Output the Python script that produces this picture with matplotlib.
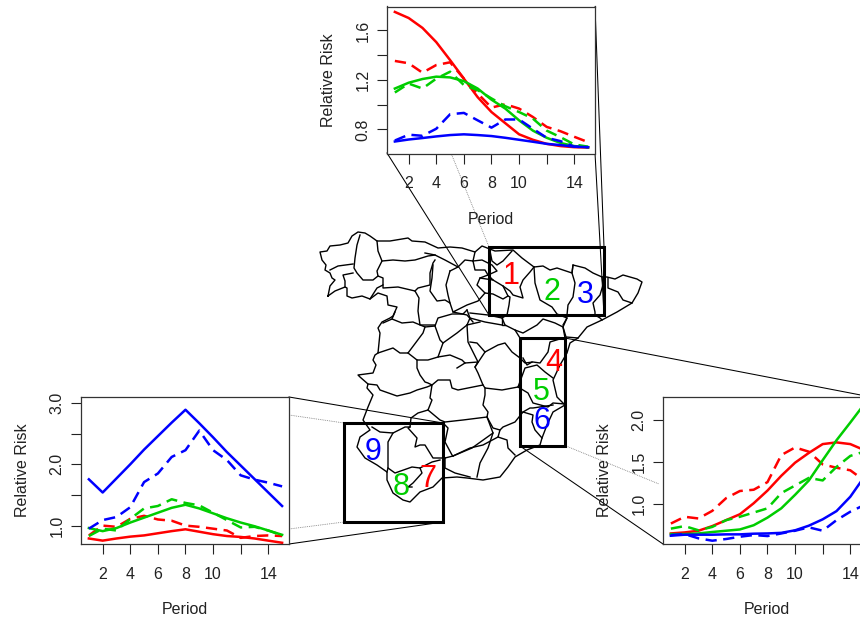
import matplotlib
matplotlib.use("Agg")
import matplotlib.pyplot as plt

plt.rcParams['font.family'] = ['Liberation Sans', 'DejaVu Sans']

W = 860
H = 620
periods = list(range(1, 16))

# top panel (regions 1 2 3)
top_red = [1.749, 1.70, 1.62, 1.505, 1.36, 1.21, 1.06, 0.94, 0.85, 0.76, 0.716, 0.683, 0.665, 0.656, 0.653]
top_red_d = [1.353, 1.334, 1.258, 1.32, 1.342, 1.21, 1.09, 0.976, 1.003, 0.968, 0.90, 0.82, 0.785, 0.74, 0.697]
top_green = [1.13, 1.177, 1.207, 1.226, 1.22, 1.19, 1.13, 1.04, 0.968, 0.873, 0.79, 0.732, 0.69, 0.665, 0.656]
top_green_d = [1.098, 1.17, 1.13, 1.21, 1.266, 1.158, 1.117, 1.05, 0.987, 0.94, 0.887, 0.79, 0.737, 0.678, 0.66]
top_blue = [0.702, 0.718, 0.73, 0.743, 0.754, 0.76, 0.754, 0.746, 0.732, 0.716, 0.70, 0.683, 0.673, 0.66, 0.656]
top_blue_d = [0.71, 0.757, 0.748, 0.805, 0.922, 0.933, 0.873, 0.814, 0.88, 0.88, 0.805, 0.732, 0.705, 0.66, 0.656]

# left panel (regions 7 8 9)
left_red = [0.79, 0.755, 0.79, 0.82, 0.84, 0.875, 0.91, 0.94, 0.90, 0.86, 0.83, 0.815, 0.79, 0.755, 0.72]
left_red_d = [0.84, 1.0, 0.98, 1.11, 1.16, 1.10, 1.08, 1.0, 0.98, 0.95, 0.92, 0.80, 0.83, 0.84, 0.83]
left_green = [0.96, 0.91, 0.96, 1.05, 1.13, 1.21, 1.29, 1.34, 1.28, 1.20, 1.12, 1.05, 0.99, 0.92, 0.85]
left_green_d = [0.83, 0.95, 0.92, 1.11, 1.28, 1.32, 1.43, 1.37, 1.33, 1.21, 1.09, 0.97, 0.98, 0.92, 0.84]
left_blue = [1.755, 1.54, 1.77, 2.0, 2.24, 2.46, 2.68, 2.89, 2.67, 2.44, 2.2, 1.98, 1.76, 1.54, 1.32]
left_blue_d = [0.95, 1.09, 1.14, 1.30, 1.71, 1.85, 2.12, 2.23, 2.55, 2.23, 2.07, 1.82, 1.75, 1.70, 1.64]

# right panel (regions 4 5 6)
right_red = [0.653, 0.665, 0.685, 0.74, 0.81, 0.88, 1.01, 1.16, 1.335, 1.49, 1.606, 1.71, 1.73, 1.71, 1.64]
right_red_d = [0.77, 0.85, 0.83, 0.92, 1.07, 1.155, 1.17, 1.26, 1.58, 1.67, 1.62, 1.47, 1.43, 1.40, 1.28]
right_green = [0.645, 0.645, 0.653, 0.67, 0.685, 0.70, 0.75, 0.84, 0.95, 1.11, 1.28, 1.52, 1.755, 1.965, 2.18]
right_green_d = [0.71, 0.74, 0.69, 0.73, 0.81, 0.85, 0.90, 0.95, 1.13, 1.22, 1.31, 1.28, 1.44, 1.57, 1.62]
right_blue = [0.626, 0.638, 0.638, 0.638, 0.642, 0.642, 0.65, 0.653, 0.66, 0.69, 0.745, 0.82, 0.917, 1.087, 1.32]
right_blue_d = [0.634, 0.645, 0.595, 0.567, 0.587, 0.614, 0.634, 0.622, 0.653, 0.685, 0.725, 0.685, 0.81, 0.91, 0.988]

# province borders
coast_north = [(328,296),(330,286),(335,280),(332,278),(330,273),(325,270),(326,265),(322,260),(320,252),(327,251),(330,246),(340,245),(348,243),(352,236),(358,232),(365,233),(370,236),(377,241),(390,241),(408,238),(412,241),(425,242),(438,248),(450,247),(462,248),(475,252),(482,246),(495,251),(513,250),(522,258),(534,267),(543,266),(550,270),(557,268),(572,273),(573,265),(585,268),(593,273),(602,277),(607,277),(615,279),(623,275),(637,279),(642,282),(638,293),(632,303),(617,312),(602,320),(587,327),(578,338),(570,343),(567,353),(560,365),(553,380),(557,397),(565,405),(553,412),(547,425),(542,438),(540,445),(527,450),(515,457),(508,467),(500,477),(483,480),(467,478),(457,477),(442,478),(433,487),(420,492),(410,502),(403,500),(393,493),(387,480),(387,472),(377,465),(365,458),(357,447),(360,437),(370,430),(363,420),(368,407),(373,395),(367,388),(368,384),(360,377),(358,375),(373,373),(376,365),(373,360),(375,355),(378,353),(380,333),(378,328),(382,322),(390,318),(393,316),(397,307),(388,305),(387,296),(378,293),(370,299),(362,296),(352,298),(347,296),(347,288),(345,287),(335,291),(328,296)]
borders = [
    [(330,270),(338,266),(353,264)],
    [(360,235),(357,245),(355,258),(354,268),(357,273),(363,280),(373,280),(378,276),(383,278),(383,285),(377,288),(370,299)],
    [(353,273),(343,275),(345,281),(345,287)],
    [(377,241),(378,251),(382,261),(377,271),(378,276)],
    [(382,261),(393,260),(405,261),(415,260),(428,256),(435,255),(445,260),(458,267),(465,260),(473,261),(475,252)],
    [(425,253),(435,255)],
    [(383,285),(383,288),(398,287),(415,291),(419,298),(418,311),(420,325),(435,325)],
    [(415,291),(418,288),(430,285),(430,273),(433,263),(435,260)],
    [(433,265),(432,278),(430,291),(437,301),(445,300),(450,303),(453,312)],
    [(450,271),(448,278),(446,285),(448,295),(450,303)],
    [(450,271),(458,267)],
    [(473,261),(475,270),(485,270),(488,275),(480,278),(477,285),(485,293),(478,301),(467,305),(455,311),(453,312),(467,315),(473,322)],
    [(473,261),(482,260),(492,265),(497,271),(488,275)],
    [(490,251),(492,261),(497,265),(503,261),(512,251)],
    [(534,267),(530,272),(523,280),(520,287),(523,298),(513,295),(510,291),(503,286),(493,280),(488,275)],
    [(480,278),(493,280)],
    [(503,286),(508,296),(503,299),(493,294),(485,293)],
    [(508,296),(510,297),(509,305),(507,315),(502,318),(488,315),(470,313)],
    [(534,267),(535,283),(540,300),(552,307),(557,314),(567,318),(563,325)],
    [(502,318),(505,325),(515,330),(523,333),(537,325),(543,319),(555,323),(563,327),(565,338)],
    [(573,265),(572,273),(575,283),(573,297),(568,305),(567,315),(575,315),(593,315),(595,315),(600,318),(602,320)],
    [(602,277),(603,285),(600,295),(593,303),(595,312),(595,315)],
    [(608,278),(608,288),(618,292),(623,300),(632,303)],
    [(567,318),(563,327),(566,337),(578,338)],
    [(515,330),(520,338),(520,358),(525,363),(533,362),(540,363),(548,352),(550,342),(563,338)],
    [(502,318),(502,325),(505,325)],
    [(470,318),(485,322),(502,325)],
    [(467,325),(470,318),(467,310)],
    [(470,342),(477,343),(485,352),(498,345),(505,343),(512,352),(520,358)],
    [(523,358),(527,365),(532,362)],
    [(485,352),(475,367),(478,373),(483,385),(485,388),(502,390),(518,387),(525,368),(537,365),(545,372),(553,378)],
    [(518,387),(528,393),(533,403),(548,407),(553,403),(565,404)],
    [(485,388),(485,395),(483,405),(488,412),(487,417),(493,428),(500,430),(503,427),(515,422),(523,412),(530,408),(533,408),(553,405)],
    [(523,412),(533,415),(532,422),(535,430),(542,438)],
    [(500,430),(498,437),(507,440),(508,448),(515,455)],
    [(498,437),(483,445),(470,448),(453,456),(445,458)],
    [(493,433),(488,448),(480,463),(477,477)],
    [(383,323),(392,319),(402,323),(413,322),(425,327),(435,326),(438,318),(452,314),(463,314),(467,310)],
    [(392,319),(395,312)],
    [(378,353),(393,348),(400,353),(408,353),(423,333),(425,327)],
    [(435,326),(440,340),(443,343),(438,357)],
    [(408,353),(417,360),(428,360),(438,357),(450,355),(462,360),(465,363),(478,362),(475,367)],
    [(443,343),(457,333),(467,325),(480,322)],
    [(467,325),(468,342),(478,362)],
    [(465,363),(457,368)],
    [(417,360),(417,368),(420,375),(425,382),(428,383),(432,385),(438,380),(450,380),(452,388),(458,390),(473,387),(483,385)],
    [(368,384),(377,385),(380,390),(397,396),(410,393),(417,390),(427,387),(432,385),(430,398),(432,400),(428,410),(418,413),(411,418),(410,427),(405,427),(393,433),(380,432),(372,427)],
    [(428,410),(440,420),(445,422),(463,420),(487,417)],
    [(443,423),(448,428),(445,442),(452,455),(453,456)],
    [(487,417),(490,425),(493,433),(472,448),(453,456)],
    [(445,458),(440,458),(433,458),(425,445),(420,445),(415,447),(417,438),(408,428),(410,427)],
    [(393,433),(388,442),(388,468),(387,472)],
    [(388,468),(395,473),(412,467),(420,468),(432,462),(440,460)],
    [(420,468),(422,473),(413,483),(408,487),(412,487)],
    [(445,458),(445,468),(455,473),(470,477)],
]
regions_red = ["1", "4", "7"]
regions_green = ["2", "5", "8"]
regions_blue = ["3", "6", "9"]

fig = plt.figure(figsize=(W / 100, H / 100), dpi=100)

# overlay in picture pixels for the map and the zoom lines
bg = fig.add_axes([0, 0, 1, 1], zorder=0)
bg.set_xlim(0, W)
bg.set_ylim(H, 0)
bg.axis('off')

def trace(ax, line, **kw):
    ax.plot([p[0] for p in line], [p[1] for p in line], color='black', solid_joinstyle='round', **kw)

trace(bg, coast_north, lw=1.0)
for b in borders:
    trace(bg, b, lw=1.0)

boxes = [(489, 247, 115, 68), (520, 338, 45, 108), (344, 423, 99, 99)]
for x0, y0, w, h in boxes:
    bg.add_patch(plt.Rectangle((x0, y0), w, h, fill=False, ec='black', lw=2.2, zorder=5))

links = [
    [(387, 153), (489, 315)], [(595, 7), (604, 247)], [(595, 153), (604, 315)],
    [(565, 338), (871, 397)], [(520, 446), (663, 544)],
    [(289, 397), (443, 423)], [(289, 544), (443, 522)],
]
dotted = [
    [(451, 153), (489, 247)], [(566, 446), (659, 484)],
    [(289, 415), (344, 423)], [(289, 529), (344, 522)],
]
for l in links:
    trace(bg, l, lw=0.75)
for l in dotted:
    bg.plot([p[0] for p in l], [p[1] for p in l], color='#777777', lw=0.6, ls=(0, (1, 1.2)))

for txt, x, y in zip(regions_red, [511, 554, 428], [276, 363, 479]):
    bg.text(x, y, txt, color='#ff0000', fontsize=22, ha='center', va='center', zorder=6)
for txt, x, y in zip(regions_green, [552, 541, 401], [292, 392, 487]):
    bg.text(x, y, txt, color='#00cd00', fontsize=22, ha='center', va='center', zorder=6)
for txt, x, y in zip(regions_blue, [585, 542, 373], [295, 421, 452]):
    bg.text(x, y, txt, color='#0000ff', fontsize=22, ha='center', va='center', zorder=6)

def panel(left, top, ylim, yticks, ylabs, series):
    width = 208
    height = 147
    ax = fig.add_axes([left / W, 1 - (top + height) / H, width / W, height / H], zorder=1)
    reds, greens, blues = series
    for col, (solid, dash) in zip(['#ff0000', '#00cd00', '#0000ff'], [reds, greens, blues]):
        ax.plot(periods, solid, color=col, lw=1.8)
        ax.plot(periods, dash, color=col, lw=1.8, ls=(0, (4.5, 2.6)))
    ax.set_xlim(0.43, 15.5)
    ax.set_ylim(*ylim)
    ax.set_xticks([2, 4, 6, 8, 10, 12, 14])
    ax.set_xticklabels(['2', '4', '6', '8', '10', '', '14'], fontsize=11.5, color='#222222')
    ax.set_yticks(yticks)
    ax.set_yticklabels(ylabs, rotation=90, va='center', fontsize=11.5, color='#222222')
    ax.tick_params(axis='x', length=7, width=0.8, pad=9.5, color='#222222')
    ax.tick_params(axis='y', length=7, width=0.8, pad=5, color='#222222')
    ax.set_xlabel("Period", fontsize=11.5, labelpad=14.5, color='#222222')
    ax.set_ylabel("Relative Risk", fontsize=11.5, labelpad=14, color='#222222')
    for s in ax.spines.values():
        s.set_linewidth(0.9)
        s.set_color('#333333')
    return ax

panel(387, 6.5, (0.605, 1.793), [0.8, 1.0, 1.2, 1.4, 1.6], ['0.8', '', '1.2', '', '1.6'],
      [(top_red, top_red_d), (top_green, top_green_d), (top_blue, top_blue_d)])
panel(81, 397, (0.70, 3.098), [1.0, 1.5, 2.0, 2.5, 3.0], ['1.0', '', '2.0', '', '3.0'],
      [(left_red, left_red_d), (left_green, left_green_d), (left_blue, left_blue_d)])
panel(663, 397, (0.528, 2.267), [1.0, 1.5, 2.0], ['1.0', '1.5', '2.0'],
      [(right_red, right_red_d), (right_green, right_green_d), (right_blue, right_blue_d)])

fig.savefig("out.png", dpi=100)
